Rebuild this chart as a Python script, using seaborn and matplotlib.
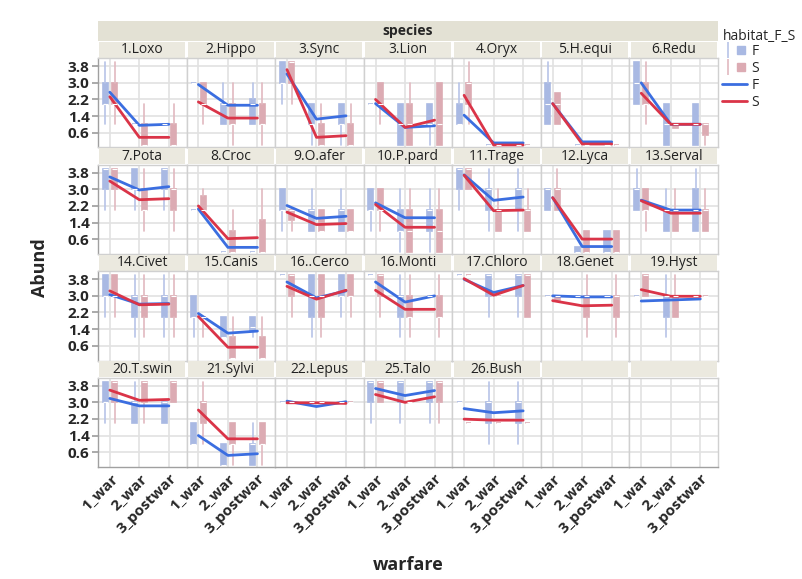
import matplotlib.pyplot as plt
import seaborn as sns
import pandas as pd
from matplotlib.patches import Rectangle
from matplotlib.lines import Line2D
from matplotlib.legend_handler import HandlerTuple

species = ['1.Loxo', '2.Hippo', '3.Sync', '3.Lion', '4.Oryx', '5.H.equi', '6.Redu',
           '7.Pota', '8.Croc', '9.O.afer', '10.P.pard', '11.Trage', '12.Lyca', '13.Serval',
           '14.Civet', '15.Canis', '16..Cerco', '16.Monti', '17.Chloro', '18.Genet', '19.Hyst',
           '20.T.swin', '21.Sylvi', '22.Lepus', '25.Talo', '26.Bush']
warfare = ['1_war', '2_war', '3_postwar']

# mean abundance per species and warfare period
F_mean = [[2.55, 0.95, 1.0], [2.92, 1.92, 1.92], [3.43, 1.25, 1.41], [2.0, 0.85, 0.93],
          [1.44, 0.1, 0.1], [2.0, 0.15, 0.15], [3.0, 1.0, 1.0],
          [3.6, 2.97, 3.13], [2.05, 0.2, 0.2], [2.22, 1.6, 1.7], [2.35, 1.63, 1.63],
          [3.7, 2.47, 2.63], [2.6, 0.24, 0.24], [2.48, 2.0, 2.0],
          [3.06, 2.6, 2.63], [2.15, 1.2, 1.3], [3.67, 2.9, 3.24], [3.67, 2.7, 3.0],
          [3.8, 3.16, 3.5], [3.0, 2.95, 2.95], [2.75, 2.8, 2.85],
          [3.19, 2.83, 2.83], [1.4, 0.44, 0.52], [3.06, 2.8, 3.03], [3.67, 3.33, 3.57],
          [2.7, 2.5, 2.59]]
S_mean = [[2.33, 0.37, 0.37], [2.08, 1.3, 1.3], [3.64, 0.37, 0.45], [2.2, 0.85, 1.2],
          [2.4, 0.0, 0.0], [2.0, 0.05, 0.05], [2.5, 1.0, 1.0],
          [3.4, 2.5, 2.55], [2.2, 0.62, 0.67], [1.9, 1.3, 1.35], [2.27, 1.17, 1.17],
          [3.68, 1.97, 2.0], [2.6, 0.6, 0.6], [2.45, 1.85, 1.85],
          [3.24, 2.57, 2.6], [2.0, 0.52, 0.52], [3.46, 2.84, 3.27], [3.27, 2.35, 2.35],
          [3.83, 3.03, 3.5], [2.77, 2.52, 2.55], [3.3, 2.98, 2.98],
          [3.59, 3.1, 3.14], [2.63, 1.24, 1.24], [2.98, 2.98, 2.95], [3.38, 3.0, 3.27],
          [2.19, 2.14, 2.14]]

# box summaries: (whisker low, q1, median, q3, whisker high)
F_box = [
    [(1, 2, 2, 3, 4), (1, 1, 1, 1, 1), (1, 1, 1, 1, 1)],
    [(3, 3, 3, 3, 3), (1, 1, 2, 2, 3), (1, 1, 2, 2.2, 3)],
    [(2, 3, 3, 4, 4), (0, 1, 1, 2, 2), (0, 1, 1, 2, 2)],
    [(2, 2, 2, 2, 2), (0, 0, 1, 2, 2), (0, 1, 1, 2, 2)],
    [(1, 1, 1, 2, 3), (0, 0, 0, 0, 0), (0, 0, 0, 0, 0)],
    [(1, 1, 2, 3, 4), (0, 0, 0, 0, 0), (0, 0, 0, 0, 0)],
    [(2, 2, 3, 4, 4), (0, 0, 1, 2, 2), (0, 0, 1, 2, 2)],
    [(2, 3, 4, 4, 4), (2, 3, 3, 4, 4), (2, 3, 4, 4, 4)],
    [(2, 2, 2, 2, 2), (0, 0, 0, 0, 0), (0, 0, 0, 0, 0)],
    [(1, 2, 2, 3, 3), (1, 1, 2, 2, 3), (1, 1, 2, 2, 3)],
    [(1, 2, 2, 3, 3), (0, 1, 1, 2, 3), (0, 1, 2, 2, 3)],
    [(2, 3, 4, 4, 4), (1, 2, 3, 3, 4), (1, 2, 3, 3, 4)],
    [(2, 2, 3, 3, 3), (0, 0, 0, 0.2, 0.2), (0, 0, 0, 1, 1)],
    [(2, 2, 3, 3, 4), (1, 1, 2, 2, 3), (1, 1, 2, 3, 4)],
    [(2, 3, 3, 4, 4), (1, 2, 3, 3, 4), (1, 2, 3, 3, 4)],
    [(1, 2, 2, 3, 3), (1, 1, 1, 2, 2), (1, 1.3, 1.5, 2, 2)],
    [(4, 4, 4, 4, 4), (1, 2, 3, 4, 4), (2, 3, 3, 4, 4)],
    [(4, 4, 4, 4, 4), (1, 2, 3, 3, 4), (3, 3, 3, 3, 3)],
    [(4, 4, 4, 4, 4), (2, 3, 4, 4, 4), (2, 3, 4, 4, 4)],
    [(3, 3, 3, 3, 3), (3, 3, 3, 3, 3), (3, 3, 3, 3, 3)],
    [(3, 3, 3, 3, 3), (1, 2, 3, 3, 4), (3, 3, 3, 3, 3)],
    [(2, 3, 3, 4, 4), (2, 2, 3, 3, 4), (2, 2, 3, 3, 3)],
    [(1, 1, 1, 2, 2), (0, 0, 0, 1, 1), (0, 0, 1, 1, 2)],
    [(3, 3, 3, 3, 3), (3, 3, 3, 3, 3), (3, 3, 3, 3, 3)],
    [(2, 3, 4, 4, 4), (2, 3, 4, 4, 4), (2, 3, 4, 4, 4)],
    [(3, 3, 3, 3, 3), (1, 2, 3, 3, 4), (1, 2, 3, 3, 4)],
]
S_box = [
    [(1, 2, 2, 3, 4), (0, 0, 0, 1, 2), (0, 0, 0, 1, 2)],
    [(1, 2, 2, 3, 3), (0, 1, 1, 2, 3), (0, 1, 1, 2, 3)],
    [(2, 3, 4, 4, 4), (0, 0, 0, 1, 2), (0, 0, 0, 1, 2)],
    [(1, 2, 2, 3, 3), (0, 0, 1, 2, 3), (0, 0, 1, 3, 3)],
    [(1, 2, 3, 3, 4), (0, 0, 0, 0, 0), (0, 0, 0, 0, 0)],
    [(1, 1, 2, 2.5, 2.5), (0, 0, 0, 0, 0), (0, 0, 0, 0, 0)],
    [(1, 2, 2, 3, 4), (0.8, 0.8, 1, 1, 1), (0, 0.5, 1, 1, 1)],
    [(2, 3, 4, 4, 4), (1, 2, 2, 3, 4), (1, 2, 3, 3, 4)],
    [(2, 2, 2, 2.7, 3), (0, 0, 0, 1, 2), (0, 0, 0, 1.5, 3)],
    [(1, 1.5, 2, 2, 2), (1, 1, 1, 2, 2), (1, 1, 1, 2, 2)],
    [(1, 2, 2, 3, 3), (0, 0, 1, 2, 3), (0, 0, 1, 2, 3)],
    [(3, 3, 4, 4, 4), (1, 1, 2, 2, 3), (1, 1, 2, 2, 3)],
    [(2, 2, 3, 3, 4), (0, 0, 0, 1, 1), (0, 0, 0, 1, 1)],
    [(1, 2, 2, 3, 3), (1, 1, 2, 2, 3), (1, 1, 2, 2, 3)],
    [(2, 3, 3, 4, 4), (1, 2, 3, 3, 4), (1, 2, 3, 3, 4)],
    [(1, 2, 2, 2, 2), (0, 0, 0, 1, 2), (0, 0, 0, 1, 2)],
    [(2, 3, 4, 4, 4), (1, 2, 3, 4, 4), (2, 3, 3, 4, 4)],
    [(2, 3, 4, 4, 4), (1, 2, 2, 3, 4), (1, 2, 2, 3, 4)],
    [(4, 4, 4, 4, 4), (3, 3, 3, 3, 3), (2, 2, 4, 4, 4)],
    [(2.8, 2.8, 3, 3, 3), (1, 2, 3, 3, 4), (1, 2, 3, 3, 4)],
    [(3, 3, 4, 4, 4), (2, 2, 3, 3, 4), (3, 3, 3, 3, 3)],
    [(2, 3, 4, 4, 4), (2, 3, 4, 4, 4), (3, 3, 4, 4, 4)],
    [(1, 2, 3, 3, 4), (0, 1, 1, 2, 2), (0, 1, 1, 2, 2)],
    [(3, 3, 3, 3, 3), (3, 3, 3, 3, 3), (3, 3, 3, 3, 3)],
    [(3, 3, 4, 4, 4), (3, 3, 3, 3, 3), (2, 3, 4, 4, 4)],
    [(2, 2, 2, 2, 2), (2, 2, 2, 2, 2), (2, 2, 2, 2, 2)],
]

box_colors = {'F': '#a9b9e3', 'S': '#dcabb3'}
whisk_colors = {'F': '#b7c4e8', 'S': '#e2b9c0'}
line_colors = {'F': '#3b6ee0', 'S': '#da3448'}

rows = []
for i, sp in enumerate(species):
    for j in range(len(warfare)):
        rows.append({'species': sp, 'warfare': j, 'habitat': 'F', 'Abund': F_mean[i][j]})
        rows.append({'species': sp, 'warfare': j, 'habitat': 'S', 'Abund': S_mean[i][j]})
means = pd.DataFrame(rows)

sns.set_theme(style='white')
plt.rcParams['font.family'] = ['Open Sans', 'DejaVu Sans']

fig, axes = plt.subplots(4, 7, figsize=(8.03, 5.79), dpi=100, sharex=True, sharey=True)
fig.subplots_adjust(left=98 / 803, right=718 / 803, top=1 - 58 / 579, bottom=1 - 467 / 579,
                    wspace=0, hspace=17 / 89.5)

# species header band
fig.patches.append(Rectangle((98 / 803, 1 - 41 / 579), 620 / 803, 20 / 579,
                             transform=fig.transFigure, facecolor='#e3e1d4', edgecolor='none', zorder=0))
fig.text(408 / 803, 1 - 31 / 579, 'species', ha='center', va='center', fontsize=10, fontweight='bold')

strip_h = 16 / 89.5
for k, ax in enumerate(axes.flat):
    ax.set_xlim(-0.4, 2.6)
    ax.set_ylim(-0.12, 4.2)
    ax.set_xticks([0, 1, 2])
    ax.set_yticks([0.6, 1.4, 2.2, 3.0, 3.8])
    ax.grid(True, color='#e2e2e2', lw=1.2)
    ax.set_axisbelow(True)
    for s in ax.spines.values():
        s.set_color('#d0d0d0')
        s.set_linewidth(1)
    ax.add_patch(Rectangle((0.015, 1.005), 0.97, strip_h, transform=ax.transAxes,
                           facecolor='#ebe9df', edgecolor='none', clip_on=False))
    if k < len(species):
        sp = species[k]
        ax.text(0.5, 1.005 + strip_h / 2, sp, transform=ax.transAxes, ha='center', va='center',
                fontsize=10, color='#222222')
        for hab, boxes, off in (('F', F_box[k], -0.16), ('S', S_box[k], 0.16)):
            stats = [dict(whislo=b[0], q1=b[1], med=b[2], q3=b[3], whishi=b[4], fliers=[])
                     for b in boxes]
            c = box_colors[hab]
            ax.bxp(stats, positions=[j + off for j in range(3)], widths=0.17, patch_artist=True,
                   showcaps=False, showfliers=False, manage_ticks=False,
                   boxprops=dict(facecolor=c, edgecolor=c, lw=1.2),
                   whiskerprops=dict(color=whisk_colors[hab], lw=1.2),
                   medianprops=dict(color='white', lw=0.8))
        sub = means[means['species'] == sp]
        sns.lineplot(data=sub, x='warfare', y='Abund', hue='habitat', palette=line_colors,
                     ax=ax, legend=False, lw=2)
    ax.set_xlabel('')
    ax.set_ylabel('')
    ax.tick_params(axis='both', which='both', length=0)

for ax in axes[:, 0]:
    ax.spines['left'].set_color('#a0a0a0')
    ax.tick_params(axis='y', left=True, length=4, color='#a0a0a0', pad=2)
    for t in ax.get_yticklabels():
        t.set_fontweight('bold')
        t.set_fontsize(11)
for ax in axes[-1, :]:
    ax.spines['bottom'].set_color('#a0a0a0')
    ax.set_xticklabels(warfare, rotation=45, ha='right', rotation_mode='anchor',
                       fontsize=11, fontweight='bold')
    ax.tick_params(axis='x', pad=3)

fig.text(40 / 803, 1 - 268 / 579, 'Abund', rotation=90, ha='center', va='center',
         fontsize=13, fontweight='bold')
fig.text(408 / 803, 1 - 565 / 579, 'warfare', ha='center', va='center',
         fontsize=13, fontweight='bold')

# legend
fig.text(723 / 803, 1 - 37 / 579, 'habitat_F_S', ha='left', va='center', fontsize=10)
handles = [
    (Line2D([], [], color=whisk_colors['F'], marker='|', markersize=12, ls='none', mew=1.2),
     Line2D([], [], color=box_colors['F'], marker='s', markersize=6, ls='none')),
    (Line2D([], [], color=whisk_colors['S'], marker='|', markersize=12, ls='none', mew=1.2),
     Line2D([], [], color=box_colors['S'], marker='s', markersize=6, ls='none')),
    Line2D([], [], color=line_colors['F'], lw=2),
    Line2D([], [], color=line_colors['S'], lw=2),
]
fig.legend(handles, ['F', 'S', 'F', 'S'], loc='upper left', bbox_to_anchor=(722 / 803, 1 - 44 / 579),
           frameon=False, fontsize=10, handlelength=1.8, handletextpad=0.3, labelspacing=0.15,
           borderaxespad=0, borderpad=0, handler_map={tuple: HandlerTuple(ndivide=None)})

fig.savefig('out.png', dpi=100)
